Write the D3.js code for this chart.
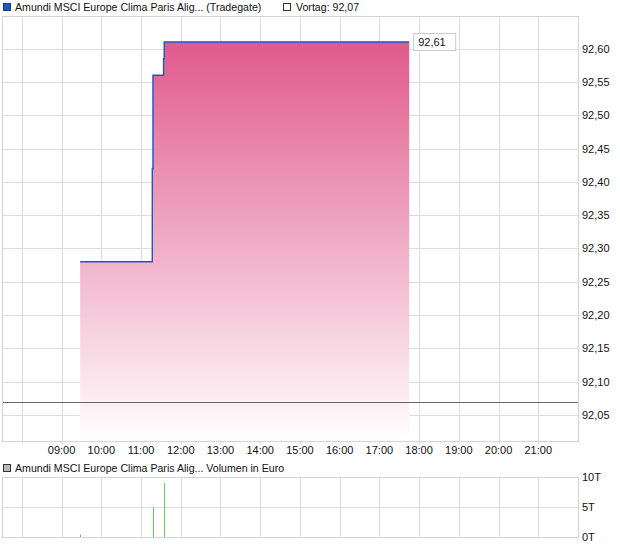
<!DOCTYPE html>
<html>
<head>
<meta charset="utf-8">
<script src="https://cdn.jsdelivr.net/npm/d3@7"></script>
<style>
body { margin: 0; background: #fff; }
text { font-family: "Liberation Sans", Arial, sans-serif; font-size: 11px; fill: #111; }
text.head { font-size: 10.6px; }
</style>
</head>
<body>
<script>
var w = 620;
var h = 546;

// price series (Tradegate), times as HH:MM
var priceTimes = ["09:28", "11:17", "11:18", "11:34", "11:35", "17:45"];
var priceValues = [92.28, 92.42, 92.56, 92.585, 92.61, 92.61];
var prevClose = 92.07;
var lastLabel = "92,61";

// volume series
var volTimes = ["09:28", "11:18", "11:35"];
var volValues = [400, 5000, 9000];
var volUp = [false, true, true];

var hourTicks = [8, 9, 10, 11, 12, 13, 14, 15, 16, 17, 18, 19, 20, 21];
var priceTicks = [92.05, 92.10, 92.15, 92.20, 92.25, 92.30, 92.35, 92.40, 92.45, 92.50, 92.55, 92.60];
var volTicks = [0, 5000, 10000];

function hrs(s) {
    var p = s.split(":");
    return +p[0] + p[1] / 60;
}
function fmt(v) { return v.toFixed(2).replace(".", ","); }

var left = 2, right = 578;
var x = d3.scaleLinear().domain([7.5, 22]).range([left, right]);
var y = d3.scaleLinear().domain([92.011, 92.649]).range([441, 16]);
var yv = d3.scaleLinear().domain([0, 10000]).range([537, 477]);

var svg = d3.select("body").append("svg")
    .attr("width", w)
    .attr("height", h);

var defs = svg.append("defs");
var grad = defs.append("linearGradient")
    .attr("id", "fillGrad")
    .attr("gradientUnits", "userSpaceOnUse")
    .attr("x1", 0).attr("x2", 0)
    .attr("y1", y(92.61)).attr("y2", y.range()[0]);
grad.append("stop").attr("offset", "0%").attr("stop-color", "#e05a8a");
grad.append("stop").attr("offset", "100%").attr("stop-color", "#ffffff");

// ---- headers
svg.append("rect")
    .attr("x", 3.5).attr("y", 3.5).attr("width", 7).attr("height", 7)
    .attr("fill", "#2356c4").attr("stroke", "#123a8a");
svg.append("text").attr("class", "head").attr("x", 15).attr("y", 11)
    .text("Amundi MSCI Europe Clima Paris Alig... (Tradegate)");
svg.append("rect")
    .attr("x", 283.5).attr("y", 3.5).attr("width", 7).attr("height", 7)
    .attr("fill", "#fff").attr("stroke", "#333");
svg.append("text").attr("class", "head").attr("x", 296).attr("y", 11)
    .text("Vortag: " + fmt(prevClose));

// ---- main panel
var main = svg.append("g");

main.selectAll("line.hgrid").data(priceTicks).enter().append("line")
    .attr("x1", left).attr("x2", right)
    .attr("y1", function(d) { return Math.round(y(d)) + 0.5; })
    .attr("y2", function(d) { return Math.round(y(d)) + 0.5; })
    .attr("stroke", "#dddddd");

main.selectAll("line.vgrid").data(hourTicks).enter().append("line")
    .attr("x1", function(d) { return Math.round(x(d)) + 0.5; })
    .attr("x2", function(d) { return Math.round(x(d)) + 0.5; })
    .attr("y1", y.range()[1]).attr("y2", y.range()[0] + 3)
    .attr("stroke", "#dddddd");

var pts = priceTimes.map(function(t, i) { return [hrs(t), priceValues[i]]; });

var area = d3.area()
    .x(function(d) { return x(d[0]); })
    .y0(y.range()[0])
    .y1(function(d) { return y(d[1]); })
    .curve(d3.curveStepAfter);

var line = d3.line()
    .x(function(d) { return x(d[0]); })
    .y(function(d) { return y(d[1]); })
    .curve(d3.curveStepAfter);

main.append("path")
    .attr("d", area(pts))
    .attr("fill", "url(#fillGrad)");

main.append("line")
    .attr("x1", left).attr("x2", right)
    .attr("y1", Math.round(y(prevClose)) + 0.5)
    .attr("y2", Math.round(y(prevClose)) + 0.5)
    .attr("stroke", "#666666");

main.append("path")
    .attr("d", line(pts))
    .attr("fill", "none")
    .attr("stroke", "#1f55c8")
    .attr("stroke-width", 1.4);

// frame
main.append("rect")
    .attr("x", left + 0.5).attr("y", y.range()[1] + 0.5)
    .attr("width", right - left).attr("height", y.range()[0] - y.range()[1])
    .attr("fill", "none").attr("stroke", "#d4d4d4");

// y labels
main.selectAll("text.ylab").data(priceTicks).enter().append("text")
    .attr("x", right + 4)
    .attr("y", function(d) { return y(d) + 4; })
    .text(fmt);

// x labels
main.selectAll("text.xlab").data(hourTicks.slice(1)).enter().append("text")
    .attr("x", function(d) { return x(d); })
    .attr("y", 454)
    .attr("text-anchor", "middle")
    .text(function(d) { return (d < 10 ? "0" : "") + d + ":00"; });

// last value box
var last = pts[pts.length - 1];
var bx = x(last[0]) + 4, by = y(last[1]);
main.append("rect")
    .attr("x", bx + 0.5).attr("y", Math.round(by) - 8.5)
    .attr("width", 42).attr("height", 17)
    .attr("fill", "#fff").attr("stroke", "#cccccc");
main.append("text")
    .attr("x", bx + 5).attr("y", by + 4)
    .text(lastLabel);

// ---- volume panel
svg.append("rect")
    .attr("x", 3.5).attr("y", 464.5).attr("width", 7).attr("height", 7)
    .attr("fill", "#bbbbbb").attr("stroke", "#333");
svg.append("text").attr("class", "head").attr("x", 15).attr("y", 472)
    .text("Amundi MSCI Europe Clima Paris Alig... Volumen in Euro");

var vol = svg.append("g");
vol.selectAll("line.vh").data(volTicks).enter().append("line")
    .attr("x1", left).attr("x2", right)
    .attr("y1", function(d) { return Math.round(yv(d)) + 0.5; })
    .attr("y2", function(d) { return Math.round(yv(d)) + 0.5; })
    .attr("stroke", "#dddddd");
vol.selectAll("line.vv").data(hourTicks).enter().append("line")
    .attr("x1", function(d) { return Math.round(x(d)) + 0.5; })
    .attr("x2", function(d) { return Math.round(x(d)) + 0.5; })
    .attr("y1", yv.range()[1]).attr("y2", yv.range()[0])
    .attr("stroke", "#dddddd");
vol.append("rect")
    .attr("x", left + 0.5).attr("y", yv.range()[1] + 0.5)
    .attr("width", right - left).attr("height", yv.range()[0] - yv.range()[1])
    .attr("fill", "none").attr("stroke", "#d4d4d4");

vol.selectAll("line.bar").data(volTimes).enter().append("line")
    .attr("x1", function(d) { return Math.round(x(hrs(d))) + 0.5; })
    .attr("x2", function(d) { return Math.round(x(hrs(d))) + 0.5; })
    .attr("y1", yv(0))
    .attr("y2", function(d, i) { return yv(volValues[i]); })
    .attr("stroke", function(d, i) { return volUp[i] ? "#5fd35f" : "#999999"; });

vol.selectAll("text.vlab").data(volTicks).enter().append("text")
    .attr("x", right + 4)
    .attr("y", function(d) { return yv(d) + 4; })
    .text(function(d) { return (d / 1000) + "T"; });
</script>
</body>
</html>
